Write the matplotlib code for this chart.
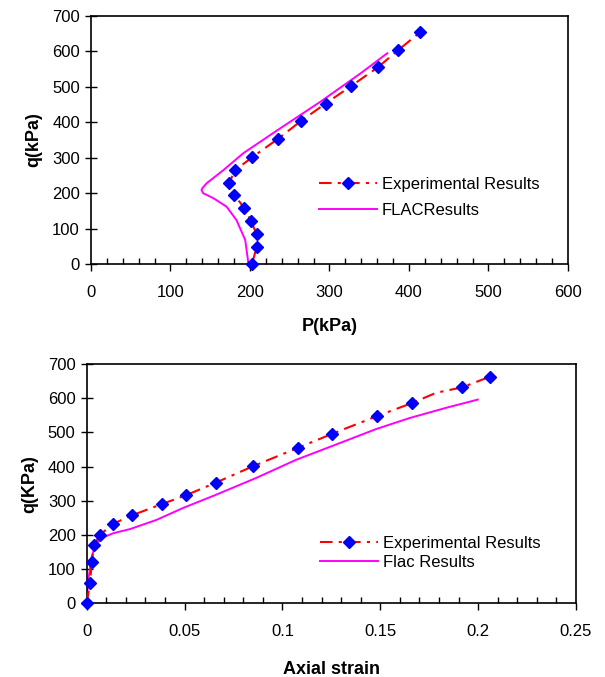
import matplotlib.pyplot as plt
from matplotlib.ticker import MultipleLocator

plt.rcParams['font.family'] = ['Liberation Sans', 'DejaVu Sans']

# top chart: p-q stress path
exp_p = [202.5, 208.4, 208.4, 200.9, 192.9, 179.9, 173.6, 181.5, 202.5,
         235.6, 263.7, 295.0, 327.0, 360.6, 386.6, 413.8]
exp_q = [0, 48, 85, 122, 158, 196, 229, 265, 301,
         354, 403, 453, 502, 555, 604, 654]
flac_p = [198, 194, 183, 170.5, 153.8, 141, 139, 140, 145.5, 166.5,
          191.7, 238, 288.5, 339, 372.7]
flac_q = [2, 68, 124, 162, 186, 200, 209, 214, 228, 265,
          313, 383, 458, 538, 595]

# bottom chart: q vs axial strain
exp_strain = [0, 0.0017, 0.0026, 0.0037, 0.0068, 0.0133, 0.023, 0.0383,
              0.0507, 0.066, 0.085, 0.108, 0.1255, 0.1485, 0.1663, 0.1786,
              0.192, 0.206]
exp_q2 = [0, 60, 120, 171, 200, 232, 257, 290, 316, 353, 401, 455, 496,
          548, 586, 616, 632, 663]
exp_marks = [0, 1, 2, 3, 4, 5, 6, 7, 8, 9, 10, 11, 12, 13, 14, 16, 17]
flac_strain = [0, 0.0008, 0.0026, 0.0042, 0.0059, 0.0093, 0.0136, 0.0221,
               0.0357, 0.0493, 0.0663, 0.0867, 0.1071, 0.1258, 0.148,
               0.165, 0.1837, 0.1998]
flac_q2 = [0, 68, 137, 166, 181, 195, 205, 217, 244, 279, 318, 367, 420,
           461, 510, 542, 572, 596]

fig = plt.figure(figsize=(6.05, 6.77), dpi=100)
ax1 = fig.add_axes([0.1504, 0.6100, 0.7884, 0.3663])
ax2 = fig.add_axes([0.1433, 0.1089, 0.8088, 0.3534])

def style_axes(ax):
    for s in ax.spines.values():
        s.set_linewidth(1.2)
    ax.tick_params(axis='x', which='major', direction='out', length=5,
                   width=1, labelsize=12, pad=10)
    ax.tick_params(axis='x', which='minor', direction='in', length=4, width=1)
    ax.tick_params(axis='y', which='major', direction='inout', length=8,
                   width=1, labelsize=12, pad=4)

ax1.plot(exp_p, exp_q, color='red', ls=(0, (6, 3, 1.5, 3)), lw=1.5,
         marker='D', ms=6.3, mfc='#0000ff', mec='#0000ee',
         label='Experimental Results', clip_on=False, zorder=3)
ax1.plot(flac_p, flac_q, color='#ff00ff', lw=1.4, label='FLACResults')
ax1.set_xlim(0, 600)
ax1.set_ylim(0, 700)
ax1.xaxis.set_major_locator(MultipleLocator(100))
ax1.xaxis.set_minor_locator(MultipleLocator(20))
ax1.yaxis.set_major_locator(MultipleLocator(100))
style_axes(ax1)
ax1.set_xlabel('P(kPa)', fontsize=13, fontweight='bold', labelpad=13)
ax1.set_ylabel('q(kPa)', fontsize=13, fontweight='bold', labelpad=7)
ax1.legend(loc='upper left', bbox_to_anchor=(0.46, 0.385), frameon=False,
           fontsize=12, handlelength=3.5, handletextpad=0.3,
           labelspacing=0.65, borderpad=0)

ax2.plot(exp_strain, exp_q2, color='red', ls=(0, (6, 3, 1.5, 3)), lw=1.5,
         marker='D', ms=6.3, mfc='#0000ff', mec='#0000ee', markevery=exp_marks,
         label='Experimental Results', clip_on=False, zorder=3)
ax2.plot(flac_strain, flac_q2, color='#ff00ff', lw=1.4, label='Flac Results')
ax2.set_xlim(0, 0.25)
ax2.set_ylim(0, 700)
ax2.xaxis.set_major_locator(MultipleLocator(0.05))
ax2.xaxis.set_minor_locator(MultipleLocator(0.01))
ax2.yaxis.set_major_locator(MultipleLocator(100))
ax2.set_xticks([0, 0.05, 0.1, 0.15, 0.2, 0.25])
ax2.set_xticklabels(['0', '0.05', '0.1', '0.15', '0.2', '0.25'])
style_axes(ax2)
ax2.set_xlabel('Axial strain', fontsize=13, fontweight='bold', labelpad=16)
ax2.set_ylabel('q(KPa)', fontsize=13, fontweight='bold', labelpad=7)
ax2.legend(loc='upper left', bbox_to_anchor=(0.46, 0.315), frameon=False,
           fontsize=12, handlelength=3.5, handletextpad=0.3,
           labelspacing=0.2, borderpad=0)

fig.savefig('out.png', dpi=100)
